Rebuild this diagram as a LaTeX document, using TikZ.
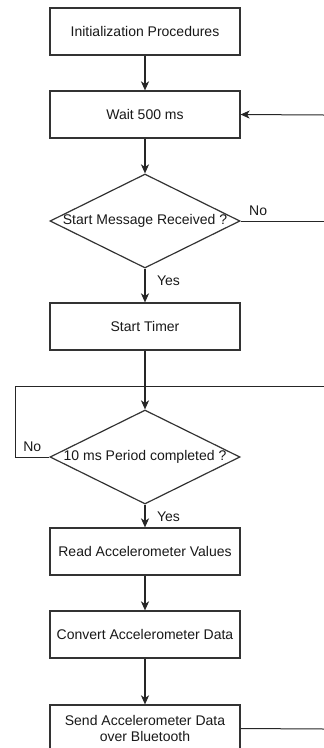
\documentclass[tikz,border=0pt]{standalone}
\usepackage{fontspec}
\setmainfont{Liberation Sans}
\usetikzlibrary{shapes,arrows.meta}

\tikzset{
  procbox/.style={draw=black!80,line width=1.2pt,fill=white,minimum width=190pt,minimum height=47pt,align=center,inner sep=0pt},
  decision/.style={diamond,draw=black!80,line width=1.2pt,fill=white,minimum width=190pt,minimum height=94pt,inner sep=0pt},
  flow/.style={draw=black!85,line width=1.5pt,-{Stealth[length=9pt,width=8pt,inset=2.5pt]}},
  thinline/.style={draw=black!85,line width=1pt}
}

\begin{document}
\begin{tikzpicture}[x=1pt,y=-1pt,font=\fontsize{14}{16}\selectfont,text=black!90]
\useasboundingbox (0,0) rectangle (324,748);
\clip (0,0) rectangle (324,748);

\node[procbox] (init) at (145,31.5) {Initialization Procedures};
\node[procbox] (wait) at (145,114.5) {Wait 500 ms};
\node[decision] (msg) at (145,221) {};
\node (msgtxt) at (msg) {Start Message Received ?};
\node[procbox] (timer) at (145,326.5) {Start Timer};
\node[decision] (period) at (145,457) {};
\node (periodtxt) at (period) {10 ms Period completed ?};
\node[procbox] (read) at (145,551.5) {Read Accelerometer Values};
\node[procbox] (conv) at (145,634.5) {Convert Accelerometer Data};
\node[procbox] (send) at (145,728.5) {Send Accelerometer Data\\over Bluetooth};

% free ends at the right and left border
\coordinate (backin) at (324,115);
\coordinate (msgout) at (324,221);
\coordinate (lowcorner) at (15,457);
\coordinate (upcorner) at (15,386);
\coordinate (loopright) at (324,386);
\coordinate (sendout) at (324,729);

\draw[flow] (init) -- (wait);
\draw[flow] (wait) -- (msg);
\draw[flow] (msg) -- node[pos=0.37,right=8pt] (yesmsg) {Yes} (timer);
\draw[flow] (timer) -- (period);
\draw[flow] (period) -- node[pos=0.55,right=8pt] (yesper) {Yes} (read);
\draw[flow] (read) -- (conv);
\draw[flow] (conv) -- (send);

\draw[flow,line width=1pt] (backin) -- (wait.east);
\draw[thinline] (msg.east) -- node[pos=0.21,above=2pt] (nomsg) {No} (msgout);
\draw[thinline] (period.west) -- node[pos=0.5,above=2pt] (noper) {No} (lowcorner) -- (upcorner) -- (loopright);
\draw[thinline] (send.east) -- (sendout);
\end{tikzpicture}
\end{document}
